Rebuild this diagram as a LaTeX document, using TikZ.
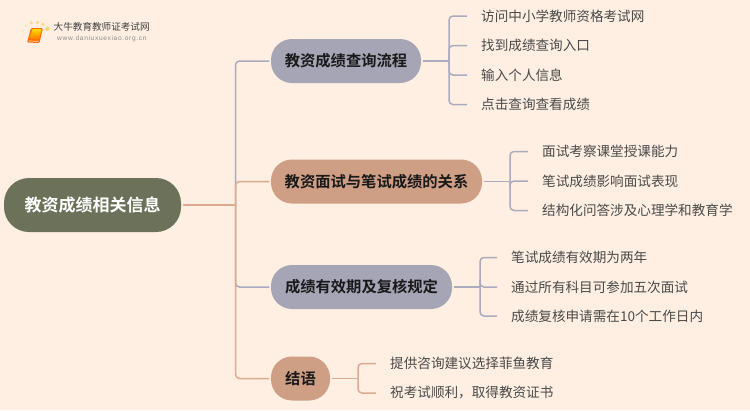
\documentclass[tikz,border=0pt]{standalone}
\usepackage{fontspec}
\setmainfont{Liberation Sans}
\newfontfamily\cjk{Noto Sans CJK SC}
\newfontfamily\cjkb{Noto Sans CJK SC Bold}
\definecolor{bgc}{HTML}{FEEFE2}
\definecolor{rootc}{HTML}{6B7259}
\definecolor{purp}{HTML}{A6A5B5}
\definecolor{tan}{HTML}{CF9F85}
\definecolor{linep}{HTML}{ABABC0}
\definecolor{linet}{HTML}{DDAA90}
\definecolor{txt}{HTML}{4A4A4A}
\definecolor{dotc}{HTML}{FFD25F}
\tikzset{
  x=1pt,y=-1pt,
  rootbox/.style={rounded corners=25pt,fill=rootc,text=white,minimum height=54pt,inner sep=0pt,anchor=center,font=\cjkb\fontsize{17}{17}\selectfont},
  branch/.style={rounded corners=21pt,minimum height=44pt,inner sep=0pt,font=\cjkb\fontsize{15.3}{16}\selectfont,text=black!90},
  leaf/.style={anchor=west,inner sep=0pt,font=\cjk\fontsize{13.6}{14}\selectfont,text=txt},
  linkp/.style={draw=linep,line width=1.5pt,rounded corners=4pt},
  linkt/.style={draw=linet,line width=1.5pt,rounded corners=4pt},
}
\begin{document}
\begin{tikzpicture}
\useasboundingbox[fill=bgc] (0,0) rectangle (750,410);
% root and branches
\node[rootbox,minimum width=177pt] (root) at (92.5,205) {教资成绩相关信息};
\node[branch,fill=purp,minimum width=150pt] (b1) at (346,61) {教资成绩查询流程};
\node[branch,fill=tan,minimum width=211pt] (b2) at (376.5,181.5) {教资面试与笔试成绩的关系};
\node[branch,fill=purp,minimum width=181pt] (b3) at (361.5,287) {成绩有效期及复核规定};
\node[branch,fill=tan,minimum width=59pt] (b4) at (300.5,378.5) {结语};
% leaves
\node[leaf] (a1) at (481,16) {访问中小学教师资格考试网};
\node[leaf] (a2) at (481,45.5) {找到成绩查询入口};
\node[leaf] (a3) at (481,75) {输入个人信息};
\node[leaf] (a4) at (481,104.5) {点击查询查看成绩};
\node[leaf] (c1) at (542,151.5) {面试考察课堂授课能力};
\node[leaf] (c2) at (542,181) {笔试成绩影响面试表现};
\node[leaf] (c3) at (542,210.5) {结构化问答涉及心理学和教育学};
\node[leaf] (d1) at (511,257.5) {笔试成绩有效期为两年};
\node[leaf] (d2) at (511,287) {通过所有科目可参加五次面试};
\node[leaf] (d3) at (511,316) {成绩复核申请需在10个工作日内};
\node[leaf] (e1) at (390,363.5) {提供咨询建议选择菲鱼教育};
\node[leaf] (e2) at (390,393) {祝考试顺利，取得教资证书};
% trunk junctions
\coordinate (rj) at (235.5,205);
\coordinate (j1) at (449,61);
\coordinate (j2) at (510,181.5);
\coordinate (j3) at (480,287);
\coordinate (j4) at (358,378.5);
% root connectors
\draw[linkp] (rj) -- (rj |- b1.west) -- ([xshift=-1.5pt]b1.west);
\draw[linkp] (rj) -- (rj |- b3.west) -- ([xshift=-1.5pt]b3.west);
\draw[linkt] (rj) -- (rj |- b2.west) -- ([xshift=-1.5pt]b2.west);
\draw[linkt] (rj) -- (rj |- b4.west) -- ([xshift=-1.5pt]b4.west);
\draw[linkt] ([xshift=1.5pt]root.east) -- (rj);
% branch connectors
\draw[linkp] ([xshift=1.5pt]b1.east) -- (j1);
\foreach \n in {a1,a2,a3,a4} \draw[linkp] (j1) -- (j1 |- \n.west) -- ([xshift=-14pt]\n.west);
\draw[linkp] ([xshift=1.5pt]b2.east) -- (j2);
\foreach \n in {c1,c2,c3} \draw[linkp] (j2) -- (j2 |- \n.west) -- ([xshift=-14pt]\n.west);
\draw[linkp] ([xshift=1.5pt]b3.east) -- (j3);
\foreach \n in {d1,d2,d3} \draw[linkp] (j3) -- (j3 |- \n.west) -- ([xshift=-14pt]\n.west);
\draw[linkt] ([xshift=1.5pt]b4.east) -- (j4);
\foreach \n in {e1,e2} \draw[linkt] (j4) -- (j4 |- \n.west) -- ([xshift=-14pt]\n.west);
% logo
\foreach \px/\py/\r/\o in {47.5/28.7/2.2/.9,43/24.3/1.8/.8,37.5/22.3/1.8/.8,31.3/22.8/1.7/.75,26/25.8/1.3/.55,22.7/31/1.1/.4,22/37/.9/.3,23.3/42.5/.7/.2}
  \fill[dotc,opacity=\o] (\px,\py) circle (\r);
\fill[orange!85!red,rounded corners=1.2pt] (27,42.5) -- (31,28) -- (43,28) -- (39.5,43) -- cycle;
\shade[top color=yellow!70!orange,bottom color=orange!95!red,rounded corners=.8pt] (29,39) -- (32.5,29) -- (41.8,29) -- (38.8,39.5) -- cycle;
\draw[white!90!orange,line width=.7pt] (28.8,41) -- (38.5,41.3);
\node[inner sep=0pt,anchor=west,font=\cjk\fontsize{9.6}{10}\selectfont,text=black!75] (lg1) at (53.5,27) {大牛教育教师证考试网};
\node[inner sep=0pt,anchor=west,font=\fontsize{6.6}{7}\selectfont\addfontfeatures{LetterSpace=10},text=black!45] (lg2) at (57,39) {www.daniuxuexiao.org.cn};
\end{tikzpicture}
\end{document}
